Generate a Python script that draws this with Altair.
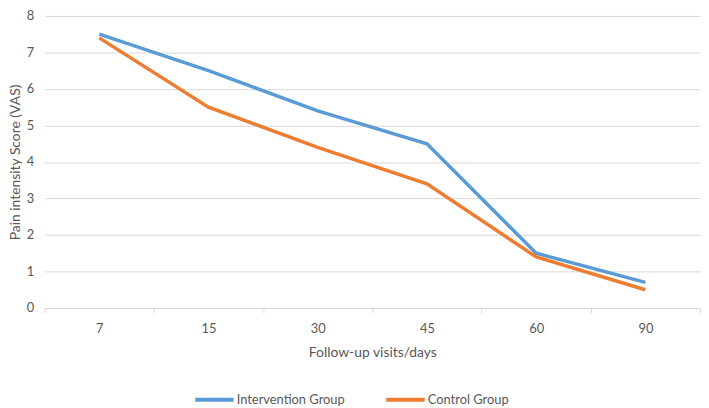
import altair as alt
import pandas as pd

days = ["7", "15", "30", "45", "60", "90"]
intervention = [7.5, 6.5, 5.4, 4.5, 1.5, 0.7]
control = [7.4, 5.5, 4.4, 3.4, 1.4, 0.5]
groups = ["Intervention Group", "Control Group"]
colors = ["#5B9BD5", "#ED7D31"]

rows = []
for d, v in zip(days, intervention):
    rows.append({"day": d, "score": v, "group": groups[0]})
for d, v in zip(days, control):
    rows.append({"day": d, "score": v, "group": groups[1]})
df = pd.DataFrame(rows)

FONT = "Lato"
chart = alt.Chart(df).mark_line(strokeWidth=3.5).encode(
    x=alt.X("day:N", sort=days, title="Follow-up visits/days",
            scale=alt.Scale(paddingInner=0, paddingOuter=0),
            axis=alt.Axis(labelAngle=0, tickBand="extent", grid=False,
                          domainColor="#d9d9d9", tickColor="#d9d9d9", tickSize=5,
                          labelPadding=10, titlePadding=10)),
    y=alt.Y("score:Q", title="Pain intensity Score (VAS)",
            scale=alt.Scale(domain=[0, 8], nice=False),
            axis=alt.Axis(values=[0, 1, 2, 3, 4, 5, 6, 7, 8], domain=False, ticks=False,
                          gridColor="#d9d9d9", labelPadding=11, titlePadding=4)),
    color=alt.Color("group:N", sort=groups,
                    scale=alt.Scale(domain=groups, range=colors),
                    legend=alt.Legend(title=None, orient="none", direction="horizontal",
                                      legendX=150, legendY=366, padding=0,
                                      symbolType="stroke", symbolStrokeWidth=4,
                                      symbolSize=1500, labelFontSize=13, labelOffset=1,
                                      columnPadding=33, labelColor="#595959",
                                      labelFont=FONT)),
).properties(width=662, height=295).configure(
    padding=0
).configure_view(stroke=None).configure_axis(
    labelFont=FONT, titleFont=FONT, labelFontSize=13, titleFontSize=14,
    labelColor="#595959", titleColor="#595959", titleFontWeight="normal"
)

chart.save("out.html", embed_options={"renderer": "svg", "actions": False})
